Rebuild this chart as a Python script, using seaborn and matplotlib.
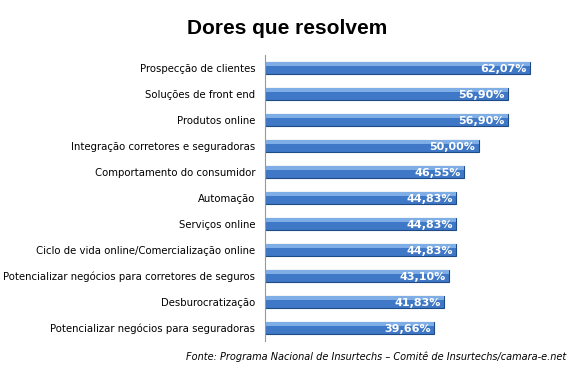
import numpy as np
import pandas as pd
import matplotlib
matplotlib.use('Agg')
import matplotlib.pyplot as plt
import seaborn as sns

# data
categories = ['Prospecção de clientes', 'Soluções de front end', 'Produtos online',
              'Integração corretores e seguradoras', 'Comportamento do consumidor',
              'Automação', 'Serviços online', 'Ciclo de vida online/Comercialização online',
              'Potencializar negócios para corretores de seguros', 'Desburocratização',
              'Potencializar negócios para seguradoras']
values = [62.07, 56.90, 56.90, 50.00, 46.55, 44.83, 44.83, 44.83, 43.10, 41.83, 39.66]
value_labels = ['62,07%', '56,90%', '56,90%', '50,00%', '46,55%', '44,83%',
                '44,83%', '44,83%', '43,10%', '41,83%', '39,66%']

df = pd.DataFrame({'cat': categories, 'val': values})

sns.set_style('white')
plt.rcParams['font.family'] = ['DejaVu Sans']
plt.rcParams['text.color'] = 'black'
plt.rcParams['ytick.color'] = 'black'

fig = plt.figure(figsize=(5.78, 3.78), dpi=100)
ax = fig.add_axes([265/578, 1 - 341/378, 300/578, (341 - 55)/378])

sns.barplot(data=df, x='val', y='cat', orient='h', color='#3F78C6',
            edgecolor='#1E4A85', linewidth=0.8, width=0.46, ax=ax, saturation=1)

# light highlight on top part of each bar
for p in ax.patches:
    x0, y0 = p.get_x(), p.get_y()
    w, h = p.get_width(), p.get_height()
    ax.add_patch(plt.Rectangle((x0, y0), w, h * 0.35, color='#7FAEE6', lw=0, zorder=p.get_zorder() + 0.1))

for i, (v, lab) in enumerate(zip(values, value_labels)):
    ax.text(v - 0.7, i + 0.03, lab, ha='right', va='center', color='white',
            fontsize=8, fontweight='bold', zorder=5)

ax.set_xlim(0, 300 / 4.27)
ax.set_ylim(len(categories) - 0.5, -0.5)
ax.set_xlabel('')
ax.set_ylabel('')
ax.set_xticks([])
ax.tick_params(axis='y', length=0, labelsize=7.3, pad=7, labelcolor='black')
for s in ['top', 'right', 'bottom']:
    ax.spines[s].set_visible(False)
ax.spines['left'].set_color('#999999')
ax.spines['left'].set_linewidth(0.8)

fig.text(287/578, 1 - 28/378, 'Dores que resolvem', ha='center', va='center',
         fontsize=15, fontweight='bold', family='Liberation Sans', color='black')
fig.text(566/578, 1 - 357/378,
         'Fonte: Programa Nacional de Insurtechs – Comitê de Insurtechs/camara-e.net',
         ha='right', va='center', fontsize=7, style='italic', color='black')

fig.savefig('out.png', dpi=100)
